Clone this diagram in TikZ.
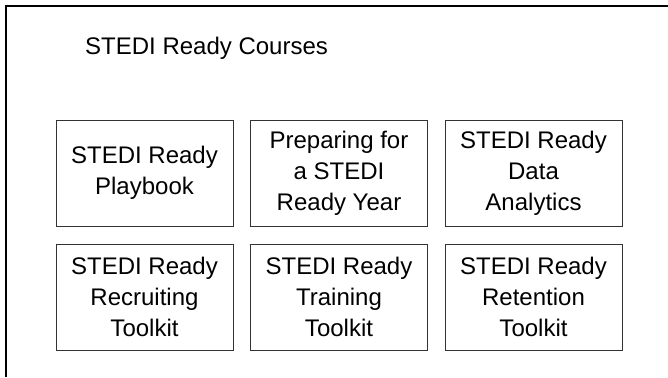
\documentclass[tikz,border=0pt]{standalone}
\usepackage{fontspec}
\setmainfont{Liberation Sans}
\begin{document}
\begin{tikzpicture}[x=1pt,y=-1pt,
  course/.style={draw=black!80, line width=1pt, minimum width=177pt, minimum height=106pt,
    align=center, inner sep=0pt, font=\fontsize{24}{31}\selectfont},
  titletext/.style={anchor=base west, inner sep=0pt, font=\fontsize{24}{29}\selectfont}]
\useasboundingbox (0,0) rectangle (668,377);
\coordinate (ftr) at (668,6);
\coordinate (ftl) at (6,6);
\coordinate (fbl) at (6,377);
\draw[line width=2pt] (ftr) -- (ftl) -- (fbl);
\node[titletext] (title) at (85,55) {STEDI Ready Courses};
\node[course] (c1) at (144.5,173) {STEDI Ready\\Playbook};
\node[course] (c2) at (339,173) {Preparing for\\a STEDI\\Ready Year};
\node[course] (c3) at (533.5,173) {STEDI Ready\\Data\\Analytics};
\node[course] (c4) at (144.5,297) {STEDI Ready\\Recruiting\\Toolkit};
\node[course] (c5) at (339,297) {STEDI Ready\\Training\\Toolkit};
\node[course] (c6) at (533.5,297) {STEDI Ready\\Retention\\Toolkit};
\end{tikzpicture}
\end{document}
